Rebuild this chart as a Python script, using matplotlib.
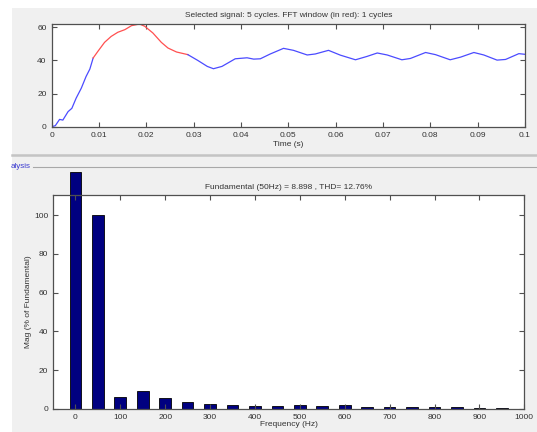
import matplotlib
matplotlib.use("Agg")
import matplotlib.pyplot as plt
from matplotlib.patches import Rectangle
from matplotlib.lines import Line2D

plt.rcParams['font.family'] = ['Liberation Sans', 'DejaVu Sans']

# Time-domain signal (5 cycles shown)
time_s = [0.0, 0.0008, 0.0017, 0.0024, 0.0035, 0.0043, 0.0052, 0.0063, 0.0073, 0.0081,
          0.0088, 0.0098, 0.0112, 0.0126, 0.0140, 0.0155, 0.0169, 0.0186, 0.0197, 0.0214,
          0.0232, 0.0246, 0.0264, 0.0288, 0.0309, 0.0329, 0.0342, 0.0360, 0.0388, 0.0413,
          0.0427, 0.0441, 0.0462, 0.0490, 0.0511, 0.0540, 0.0557, 0.0585, 0.0610, 0.0642,
          0.0666, 0.0688, 0.0709, 0.0740, 0.0758, 0.0790, 0.0811, 0.0842, 0.0864, 0.0892,
          0.0913, 0.0941, 0.0959, 0.0987, 0.1000]
signal = [0.0, 0.6, 4.4, 4.0, 9.1, 11.1, 17.2, 23.3, 30.3, 34.8,
          41.5, 45.5, 50.9, 54.5, 57.0, 58.6, 61.0, 62.0, 60.6, 56.6,
          50.9, 47.5, 45.1, 43.5, 40.0, 36.4, 35.0, 36.4, 41.0, 41.6,
          40.8, 41.0, 43.9, 47.3, 46.1, 43.3, 43.9, 46.1, 43.2, 40.4,
          42.4, 44.5, 43.3, 40.4, 41.2, 44.8, 43.5, 40.4, 42.0, 44.8,
          43.3, 40.2, 40.6, 44.1, 43.7]
fft_window = (0.0088, 0.0288)   # one cycle, highlighted in red

# Harmonic spectrum
freq_hz = [0, 50, 100, 150, 200, 250, 300, 350, 400, 450,
           500, 550, 600, 650, 700, 750, 800, 850, 900, 950]
mag_pct = [122.5, 100, 6.2, 9.0, 5.4, 3.3, 2.6, 1.9, 1.6, 1.6,
           1.9, 1.6, 1.9, 0.9, 0.9, 0.9, 0.9, 0.9, 0.4, 0.4]

time_ticks = [0, 0.01, 0.02, 0.03, 0.04, 0.05, 0.06, 0.07, 0.08, 0.09, 0.1]
time_ticklabels = ['0', '0.01', '0.02', '0.03', '0.04', '0.05', '0.06', '0.07', '0.08', '0.09', '0.1']
sig_yticks = [0, 20, 40, 60]
freq_ticks = [0, 100, 200, 300, 400, 500, 600, 700, 800, 900, 1000]
mag_yticks = [0, 20, 40, 60, 80, 100]

top_title = 'Selected signal: 5 cycles. FFT window (in red): 1 cycles'
bottom_title = 'Fundamental (50Hz) = 8.898 , THD= 12.76%'

W, H = 537, 432
fig = plt.figure(figsize=(W / 100, H / 100), dpi=100)
fig.patch.set_facecolor('white')

def fx(px):
    return px / W

def fy(py):
    return 1 - py / H

# window panel background and separators
fig.patches.append(Rectangle((fx(12), 0), 1 - fx(12), fy(8), transform=fig.transFigure,
                             facecolor='#f0f0f0', edgecolor='none', zorder=-10))
fig.lines.append(Line2D([fx(12), 1], [fy(155), fy(155)], transform=fig.transFigure,
                        color='#c4c4c4', lw=1.8, zorder=-5))
fig.lines.append(Line2D([fx(33), 1], [fy(166.5), fy(166.5)], transform=fig.transFigure,
                        color='#a8a8a8', lw=0.8, zorder=-5))
fig.text(fx(11), fy(166.5), 'alysis', color='#3a3ad0', fontsize=5.8, va='center', ha='left')

tick_color = '#333333'
spine_color = '#505050'
fs = 6.0

def style_axes(ax):
    for s in ax.spines.values():
        s.set_color(spine_color)
        s.set_linewidth(0.9)
    ax.tick_params(direction='in', length=3.5, width=0.8, colors=spine_color,
                   labelcolor=tick_color, labelsize=fs, top=True, right=True, pad=3.5)

# time-domain axes
ax1 = fig.add_axes([fx(51.5), fy(126.7), fx(525 - 51.5), (126.7 - 24) / H])
ax1.set_facecolor('white')
t0, t1 = fft_window
seg_before = [(t, v) for t, v in zip(time_s, signal) if t <= t0]
seg_window = [(t, v) for t, v in zip(time_s, signal) if t0 <= t <= t1]
seg_after = [(t, v) for t, v in zip(time_s, signal) if t >= t1]
for seg, col in ((seg_before, '#4b4bff'), (seg_window, '#ff5050'), (seg_after, '#4b4bff')):
    ax1.plot([p[0] for p in seg], [p[1] for p in seg], color=col, lw=0.9)
ax1.set_xlim(0, 0.1)
ax1.set_ylim(0, 62)
ax1.set_xticks(time_ticks)
ax1.set_xticklabels(time_ticklabels)
ax1.set_yticks(sig_yticks)
style_axes(ax1)
ax1.set_title(top_title, fontsize=fs, color=tick_color, pad=5)
ax1.set_xlabel('Time (s)', fontsize=fs, color=tick_color, labelpad=1.5)

# spectrum axes
ax2 = fig.add_axes([fx(53), fy(408.7), fx(524.3 - 53), (408.7 - 195) / H])
ax2.set_facecolor('white')
bars = ax2.bar(freq_hz, mag_pct, width=26, color='#000080', edgecolor='#000000', linewidth=0.6)
for b in bars:
    b.set_clip_on(False)
ax2.set_xlim(-50, 1000)
ax2.set_ylim(0, 110.5)
ax2.set_xticks(freq_ticks)
ax2.set_yticks(mag_yticks)
style_axes(ax2)
ax2.set_title(bottom_title, fontsize=fs, color=tick_color, pad=4.5)
ax2.set_xlabel('Frequency (Hz)', fontsize=fs, color=tick_color, labelpad=0.5)
ax2.set_ylabel('Mag (% of Fundamental)', fontsize=fs, color=tick_color, labelpad=1.5)

fig.savefig('out.png', dpi=100, facecolor=fig.get_facecolor())
